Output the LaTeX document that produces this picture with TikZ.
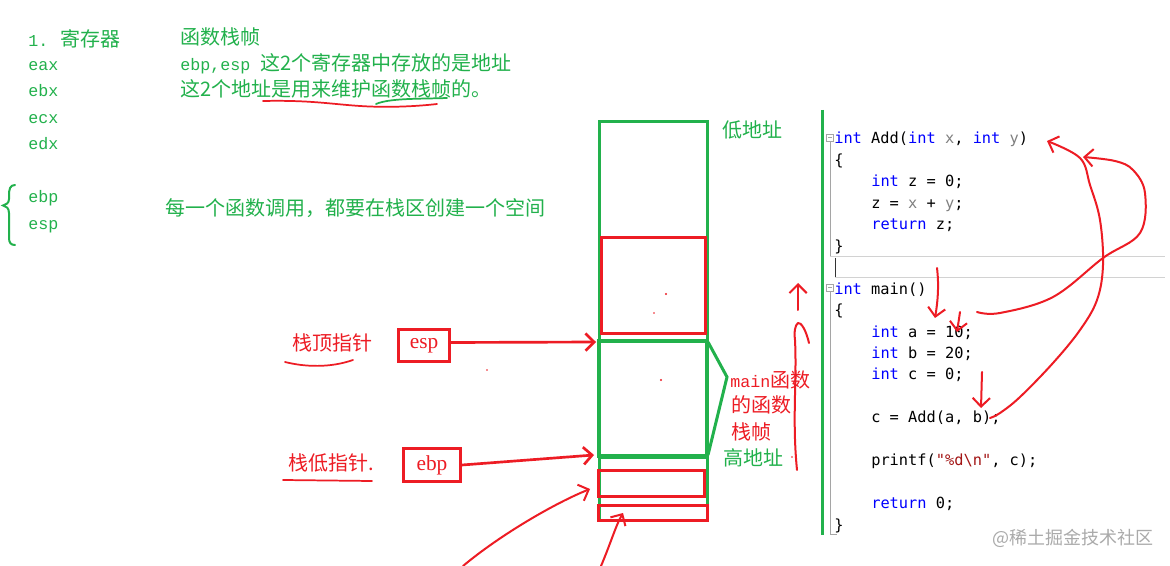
\documentclass[tikz,border=0pt]{standalone}
\usepackage{fontspec}
\usetikzlibrary{arrows.meta}
\newfontfamily\cjf{Noto Sans CJK SC}
\newfontfamily\latf{Liberation Mono}
\newfontfamily\codef{DejaVu Sans Mono}
\newfontfamily\serf{Liberation Serif}
\newcommand\CJ{\cjf\fontsize{15pt}{18pt}\selectfont}
\newcommand\LA[1]{{\latf\fontsize{12.5pt}{15pt}\selectfont #1}}
\newcommand\CODE{\codef\fontsize{11.5pt}{14pt}\selectfont}
\newcommand\SER{\serf\fontsize{16pt}{18pt}\selectfont}
\newcommand\WM{\cjf\fontsize{13.5pt}{16pt}\selectfont}
\definecolor{pgreen}{RGB}{34,177,76}
\definecolor{pred}{RGB}{237,28,36}
\definecolor{kwblue}{RGB}{0,0,255}
\definecolor{pgrey}{RGB}{128,128,128}
\definecolor{strred}{RGB}{163,21,21}
\definecolor{wmgrey}{RGB}{170,170,170}
\definecolor{olgrey}{RGB}{165,165,165}
\definecolor{hlgrey}{RGB}{210,210,210}
\newcommand\KW[1]{\textcolor{kwblue}{#1}}
\newcommand\PA[1]{\textcolor{pgrey}{#1}}
\begin{document}
\begin{tikzpicture}[x=0.75pt,y=-0.75pt,
  gtxt/.style={text=pgreen, anchor=base west, inner sep=0pt, font=\CJ},
  rtxt/.style={text=pred, anchor=base west, inner sep=0pt, font=\CJ},
  codeline/.style={anchor=base west, inner sep=0pt, font=\CODE, text=black},
  gline/.style={draw=pgreen, line width=2.25pt},
  rline/.style={draw=pred, line width=2.25pt},
  pen/.style={draw=pred, line width=1.5pt, line cap=round, line join=round},
  parrow/.style={pen, -{Straight Barb[length=6.5pt,width=13pt]}},
  ptrbox/.style={draw=pred, line width=2.25pt, inner sep=0pt, text=pred, font=\SER},
  olline/.style={draw=olgrey, line width=0.75pt}]
\fill[white] (0,0) rectangle (1170,566);
\useasboundingbox (0,0) rectangle (1170,566);

% ---- green notes, left
\node[gtxt] (reg) at (28,46.5) {\LA{1.}\hspace{9pt}寄存器};
\node[gtxt] (eax) at (28,70.5) {\LA{eax}};
\node[gtxt] (ebx) at (28,97) {\LA{ebx}};
\node[gtxt] (ecx) at (28,123.5) {\LA{ecx}};
\node[gtxt] (edx) at (28,149.5) {\LA{edx}};
\node[gtxt] (ebpr) at (28,202.5) {\LA{ebp}};
\node[gtxt] (espr) at (28,229.5) {\LA{esp}};
\draw[draw=pgreen, line width=1.5pt, line cap=round] (15,185) .. controls (10,185) and (9,189) .. (9,196) -- (9,199) .. controls (9,203) and (6,205) .. (3,205.5) .. controls (6,206) and (9,208) .. (9,213) -- (9,238) .. controls (9,243) and (11,245) .. (15,245);

\node[gtxt] (frame) at (180,44.5) {函数栈帧};
\node[gtxt] (note1) at (180,70.5) {\LA{ebp,esp }这2个寄存器中存放的是地址};
\node[gtxt] (note2) at (180,96.5) {这2个地址是用来维护函数栈帧的。};
\draw[pen, line width=1.3pt] (263,101) .. controls (310,100) and (330,104) .. (360,106) .. controls (390,108) and (420,106) .. (437,104);
\draw[draw=pgreen, line width=1.3pt, line cap=round] (376,104) .. controls (390,98) and (420,99) .. (447,98);
\node[gtxt] (note3) at (165,215.5) {每一个函数调用，都要在栈区创建一个空间};

% ---- stack
\draw[gline] (599,122) rectangle (707,457);
\draw[rline] (601,238) rectangle (705,334);
\draw[gline, line width=3pt] (599,341) rectangle (707,456);
\draw[gline] (599,457) -- (599,521);
\draw[gline] (707,457) -- (707,521);
\draw[rline] (598,470) rectangle (704,496);
\draw[rline] (598,505) rectangle (707,520);
\draw[gline, line join=miter] (708,342) -- (727,377) -- (708,455);
\fill[pred] (666,294) circle (1.2);
\fill[pred] (654,313) circle (0.8);
\fill[pred] (661,380) circle (1.2);
\fill[pred] (487,370) circle (0.8);
\fill[pred] (792,457) circle (0.8);

\node[gtxt] (low) at (722,137.5) {低地址};
\node[gtxt] (high) at (723,465.5) {高地址};
\node[rtxt] (m1) at (730,387.5) {\LA{main}函数};
\node[rtxt] (m2) at (731,412.5) {的函数};
\node[rtxt] (m3) at (731,439.5) {栈帧};

% ---- pointers
\node[rtxt] (toplbl) at (292,350.5) {栈顶指针};
\draw[pen, line width=1.3pt] (285,362) .. controls (305,367) and (330,368) .. (353,360);
\node[rtxt] (botlbl) at (288,470.5) {栈低指针.};
\draw[pen, line width=1.3pt] (283,480) -- (372,481);
\node[ptrbox, minimum width=38.25pt, minimum height=24pt] (esp) at (424,345.5) {esp};
\node[ptrbox, minimum width=42.75pt, minimum height=24.75pt] (ebp) at (432,465) {ebp};
\coordinate (espT) at (596,342);
\coordinate (ebpT) at (594,455);
\draw[parrow, line width=2pt] ([yshift=2.25pt]esp.east) -- (espT);
\draw[parrow, line width=2pt] (ebp.east) -- (ebpT);
\coordinate (lowS) at (463,566);
\coordinate (lowT) at (590,489);
\draw[parrow] (lowS) .. controls (500,535) and (555,503) .. (lowT);
\coordinate (botS) at (601,566);
\coordinate (botT) at (623,513);
\draw[parrow] (botS) .. controls (610,545) and (616,525) .. (botT);

% ---- red vertical marks
\coordinate (vS) at (798,310);
\coordinate (vT) at (798,283);
\draw[parrow] (vS) -- (vT);
\draw[pen] (809,343) .. controls (806,330) and (801,322) .. (798,323) .. controls (795,325) and (794,332) .. (795,340) .. controls (797,380) and (792,420) .. (797,470);

% ---- code panel
\draw[draw=pgreen, line width=2.25pt] (822,110) -- (822,535);
\draw[olline] (826.5,134.5) rectangle (833.5,141.5);
\draw[olline] (828,138) -- (832,138);
\draw[olline] (830,141.5) -- (830,256.5);
\draw[draw=hlgrey, line width=0.75pt] (830,256.5) -- (1165,256.5);
\draw[draw=hlgrey, line width=0.75pt] (835,277.5) -- (1165,277.5);
\draw[draw=black!80, line width=1.2pt] (835.5,258) -- (835.5,277);
\draw[olline] (826.5,284.5) rectangle (833.5,291.5);
\draw[olline] (828,288) -- (832,288);
\draw[olline] (830,291.5) -- (830,534) -- (837,534);

\node[codeline] (c1) at (834,144) {\KW{int} Add(\KW{int} \PA{x}, \KW{int} \PA{y})};
\node[codeline] (c2) at (834,165.45) {\{};
\node[codeline] (c3) at (871,186.9) {\KW{int} z = 0;};
\node[codeline] (c4) at (871,208.35) {z = \PA{x} + \PA{y};};
\node[codeline] (c5) at (871,229.8) {\KW{return} z;};
\node[codeline] (c6) at (834,251.25) {\}};
\node[codeline] (c8) at (834,294.15) {\KW{int} main()};
\node[codeline] (c9) at (834,315.6) {\{};
\node[codeline] (c10) at (871,337.05) {\KW{int} a = 10;};
\node[codeline] (c11) at (871,358.5) {\KW{int} b = 20;};
\node[codeline] (c12) at (871,379.95) {\KW{int} c = 0;};
\node[codeline] (c14) at (871,422.85) {c = Add(a, b);};
\node[codeline] (c16) at (871,465.75) {printf(\textcolor{strred}{"\%d\textbackslash n"}, c);};
\node[codeline] (c18) at (871,508.65) {\KW{return} 0;};
\node[codeline] (c19) at (834,530.1) {\}};

% ---- red arrows over code
\coordinate (d1S) at (937,268);
\coordinate (d1T) at (935,318);
\draw[parrow] (d1S) .. controls (939,285) and (938,300) .. (d1T);
\coordinate (d2S) at (960,312);
\coordinate (d2T) at (957,332);
\draw[parrow] (d2S) -- (d2T);
\coordinate (d3S) at (982,372);
\coordinate (d3T) at (981,408);
\draw[parrow] (d3S) -- (d3T);
\coordinate (bS) at (990,418);
\coordinate (bT) at (1047,141);
\draw[parrow] plot[smooth, tension=0.6] coordinates {(bS) (1000,413) (1020,397) (1053,363) (1080,330) (1097,300) (1103,265) (1100,220) (1090,185) (1080,158) (bT)};
\coordinate (aS) at (977,312);
\coordinate (aT) at (1083,157);
\draw[parrow] plot[smooth, tension=0.6] coordinates {(aS) (1000,313) (1053,297) (1103,258) (1140,233) (1145,193) (1133,170) (1115,161) (aT)};

% ---- watermark
\node[anchor=base west, inner sep=0pt, font=\WM, text=wmgrey] (wm) at (992,544.5) {@稀土掘金技术社区};
\end{tikzpicture}
\end{document}
